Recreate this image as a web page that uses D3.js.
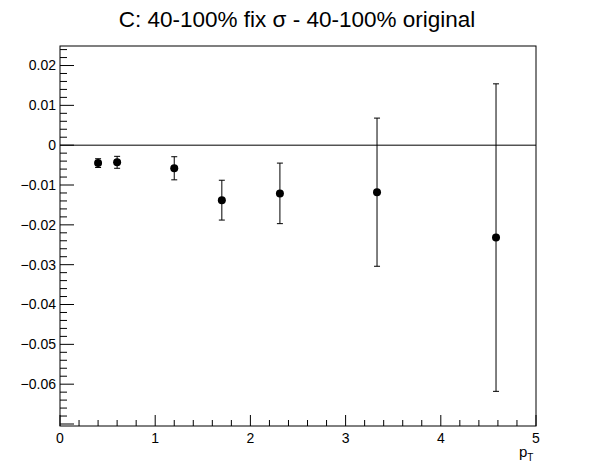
<!DOCTYPE html>
<html>
<head>
<meta charset="utf-8">
<script src="https://cdn.jsdelivr.net/npm/d3@7"></script>
<style>
  body { margin: 0; background: #fff; }
  svg { display: block; font-family: "Liberation Sans", Arial, sans-serif; }
</style>
</head>
<body>
<svg id="chart" width="596" height="474"></svg>
<script>
// data
var ptValues = [0.4, 0.6, 1.2, 1.7, 2.31, 3.33, 4.58];
var diffValues = [-0.0045, -0.0043, -0.0058, -0.0138, -0.0121, -0.0118, -0.0232];
var errValues = [0.0011, 0.0015, 0.0029, 0.0050, 0.0076, 0.0186, 0.0386];
var xTickLabels = [0, 1, 2, 3, 4, 5];
var yTickLabels = [0.02, 0.01, 0, -0.01, -0.02, -0.03, -0.04, -0.05, -0.06];

var frame = { left: 60, right: 536, top: 46, bottom: 426 };

var svg = d3.select("#chart");

var x = d3.scaleLinear().domain([0, 5]).range([frame.left, frame.right]);
var y = d3.scaleLinear().domain([-0.0705, 0.0249]).range([frame.bottom, frame.top]);

// title
svg.append("text")
	.attr("x", 297)
	.attr("y", 27)
	.attr("text-anchor", "middle")
	.attr("font-size", 22.5)
	.text("C: 40-100% fix \u03c3 - 40-100% original");

// frame
svg.append("rect")
	.attr("x", frame.left)
	.attr("y", frame.top)
	.attr("width", frame.right - frame.left)
	.attr("height", frame.bottom - frame.top)
	.attr("fill", "none")
	.attr("stroke", "black")
	.attr("stroke-width", 1);

// x axis ticks
var xMinor = d3.range(0, 5.001, 0.2);
svg.append("g").selectAll("line").data(xMinor).enter().append("line")
	.attr("x1", d => x(d)).attr("x2", d => x(d))
	.attr("y1", frame.bottom)
	.attr("y2", d => frame.bottom - (Math.abs(d - Math.round(d)) < 1e-6 ? 11 : 6))
	.attr("stroke", "black");

svg.append("g").selectAll("text").data(xTickLabels).enter().append("text")
	.attr("x", d => x(d))
	.attr("y", 443)
	.attr("text-anchor", "middle")
	.attr("font-size", 14)
	.text(d => d);

// y axis ticks
var yMinor = d3.range(-70, 25, 2).map(d => d / 1000);
svg.append("g").selectAll("line").data(yMinor).enter().append("line")
	.attr("x1", frame.left)
	.attr("x2", d => frame.left + (Math.round(d * 1000) % 10 == 0 ? 14 : 7))
	.attr("y1", d => y(d)).attr("y2", d => y(d))
	.attr("stroke", "black");

svg.append("g").selectAll("text").data(yTickLabels).enter().append("text")
	.attr("x", 56)
	.attr("y", d => y(d))
	.attr("dy", "0.35em")
	.attr("text-anchor", "end")
	.attr("font-size", 14)
	.text(d => d == 0 ? "0" : d3.format(".2f")(d));

// axis title p_T
var xt = svg.append("text")
	.attr("x", 519)
	.attr("y", 457)
	.attr("font-size", 15);
xt.append("tspan").text("p");
xt.append("tspan").attr("dy", 4).attr("font-size", 10).text("T");

// zero line
svg.append("line")
	.attr("x1", frame.left).attr("x2", frame.right)
	.attr("y1", y(0)).attr("y2", y(0))
	.attr("stroke", "black");

// points with error bars
var pts = ptValues.map((p, i) => ({ x: p, y: diffValues[i], e: errValues[i] }));
var g = svg.append("g");
g.selectAll("line.err").data(pts).enter().append("line")
	.attr("class", "err")
	.attr("x1", d => x(d.x)).attr("x2", d => x(d.x))
	.attr("y1", d => y(d.y + d.e)).attr("y2", d => y(d.y - d.e))
	.attr("stroke", "black");
[1, -1].forEach(function(s) {
	g.selectAll("line.cap" + s).data(pts).enter().append("line")
		.attr("x1", d => x(d.x) - 3).attr("x2", d => x(d.x) + 3)
		.attr("y1", d => y(d.y + s * d.e)).attr("y2", d => y(d.y + s * d.e))
		.attr("stroke", "black");
});
g.selectAll("circle").data(pts).enter().append("circle")
	.attr("cx", d => x(d.x))
	.attr("cy", d => y(d.y))
	.attr("r", 4)
	.attr("fill", "black");
</script>
</body>
</html>
